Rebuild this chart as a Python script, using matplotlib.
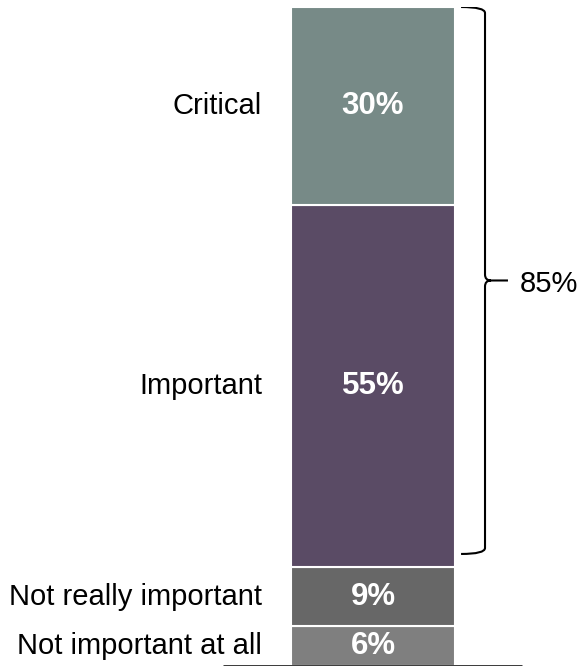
import matplotlib
matplotlib.use("Agg")
import matplotlib.pyplot as plt
from matplotlib.path import Path
from matplotlib.patches import PathPatch

# ── Data (bottom to top) ──────────────────────────────────────────────────────
categories = ["Not important at all", "Not really important", "Important", "Critical"]
values     = [6, 9, 55, 30]
colors     = ["#7f7f7f", "#676767", "#5a4b65", "#778a87"]
brace_label = "85%"

plt.rcParams["font.family"] = ["Liberation Sans", "DejaVu Sans"]

fig = plt.figure(figsize=(5.85, 6.68), dpi=100)
# axes placed so that 0-100% fills the bar height
ax = fig.add_axes([0, 2 / 668, 1, 659 / 668])
ax.set_ylim(0, 100)
ax.set_xlim(-373 / 164, (585 - 373) / 164)
ax.axis("off")

# ── Stacked bar ───────────────────────────────────────────────────────────────
bottom = 0
for cat, val, col in zip(categories, values, colors):
    ax.bar(0, val, width=1, bottom=bottom, color=col,
           edgecolor="white", linewidth=1.5, zorder=2)
    mid = bottom + val / 2
    ax.text(0, mid, f"{val}%", ha="center", va="center",
            fontsize=22.5, fontweight="bold", color="white", zorder=3)
    ax.text(-0.677, mid, cat, ha="right", va="center",
            fontsize=21, color="black")
    bottom += val

# baseline
ax.plot([-0.915, 0.909], [0, 0], color="black", lw=1.8, zorder=4,
        solid_capstyle="butt")

# ── Brace over the top two segments ───────────────────────────────────────────
px, py = 1 / 164, 100 / 659
y_top = sum(values)
y_bot = values[0] + values[1] + 2
y_mid = (y_top + y_bot) / 2
x0, x1, xt = 0.537, 0.683, 0.823
r = 6
verts = [
    (x0, y_top),
    (x1, y_top), (x1, y_top - r * py),
    (x1, y_mid + r * py),
    (x1, y_mid), (x1 + r * px, y_mid),
    (xt, y_mid),
    (x1 + r * px, y_mid),
    (x1, y_mid), (x1, y_mid - r * py),
    (x1, y_bot + r * py),
    (x1, y_bot), (x0, y_bot),
]
codes = [Path.MOVETO,
         Path.CURVE3, Path.CURVE3,
         Path.LINETO,
         Path.CURVE3, Path.CURVE3,
         Path.LINETO,
         Path.MOVETO,
         Path.CURVE3, Path.CURVE3,
         Path.LINETO,
         Path.CURVE3, Path.CURVE3]
ax.add_patch(PathPatch(Path(verts, codes), facecolor="none",
                       edgecolor="black", lw=1.5))
ax.text(0.896, y_mid - 0.5, brace_label, ha="left", va="center",
        fontsize=21, color="black")

fig.savefig("out.png", dpi=100)
